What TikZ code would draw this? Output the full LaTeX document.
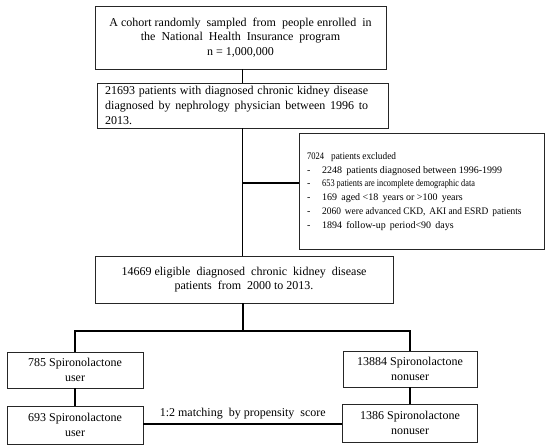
\documentclass[tikz,border=0pt]{standalone}
\usepackage{graphicx}
\usepackage{fontspec}
\setmainfont{Liberation Serif}
\newcommand{\exdash}{\makebox[15pt][l]{-}}
\begin{document}
\begin{tikzpicture}[x=1pt,y=-1pt,
  box/.style={draw=black!85, line width=0.9pt, rectangle, inner sep=0pt, align=center,
    font=\fontsize{12}{14.6}\selectfont},
  link/.style={draw=black, line width=1.3pt},
  excltext/.style={anchor=west, align=left, inner sep=0pt, font=\fontsize{10}{13.8}\selectfont}]
\useasboundingbox (0,0) rectangle (550,447);
\node[box, minimum width=291, minimum height=63] (b1) at (240.5,37.5)
  {A cohort randomly \ sampled \ from \ people enrolled \ in\\
   the \ National \ Health \ Insurance \ program\\ n = 1,000,000};
\node[box, minimum width=291, minimum height=45] (b2) at (242.5,105.5) {};
\node[anchor=west, inner sep=0pt, text width=263, align=justify,
  font=\fontsize{12}{14.6}\selectfont] (b2t) at (105,105.5)
  {21693 patients with diagnosed chronic kidney disease\linebreak
   diagnosed by nephrology physician between 1996 to\linebreak 2013.};
\node[box, minimum width=245, minimum height=116] (ex) at (421.5,191) {};
\node[excltext] (ext) at (307,191.5)
  {\scalebox{0.85}[1]{7024}\hspace{7pt}\scalebox{0.93}[1]{patients excluded}\\
   \exdash 2248 \,patients diagnosed between 1996-1999\\
   \exdash\scalebox{0.83}[1]{653 patients are incomplete demographic data}\\
   \exdash 169 \,aged <18 \,years or >100 \,years\\
   \exdash\scalebox{0.94}[1]{2060 \,were advanced CKD, \,AKI and ESRD \,patients}\\
   \exdash 1894 \,follow-up \,period<90 \,days};
\node[box, minimum width=298, minimum height=47] (b3) at (244,279.5)
  {14669 eligible \ diagnosed \ chronic \ kidney \ disease\\
   patients \ from \ 2000 to 2013.};
\node[box, minimum width=136, minimum height=36] (u1) at (75,370)
  {785 Spironolactone\\ user};
\node[box, minimum width=134, minimum height=36] (n1) at (410,369)
  {13884 Spironolactone\\ nonuser};
\node[box, minimum width=136, minimum height=38] (u2) at (75,425)
  {693 Spironolactone\\ user};
\node[box, minimum width=135, minimum height=38] (n2) at (410,423)
  {1386 Spironolactone\\ nonuser};
\coordinate (j) at (242.5,183);
\coordinate (sp) at (243,331);
\draw[link] (b1.south -| j) -- (b2.north -| j);
\draw[link] (b2.south -| j) -- (b3.north -| j);
\draw[link] (j) -- (j -| ex.west);
\draw[link] (b3.south -| sp) -- (sp);
\draw[link] (u1.north) -- (u1.north |- sp) -- (n1.north |- sp) -- (n1.north);
\draw[link] (u1.south) -- (u2.north);
\draw[link] (n1.south) -- (n2.north);
\draw[link] (u2.east |- 0,424) -- node[above=1pt, font=\fontsize{12}{14.6}\selectfont] (ml) {1:2 matching \ by propensity \ score} (n2.west |- 0,424);
\end{tikzpicture}
\end{document}
